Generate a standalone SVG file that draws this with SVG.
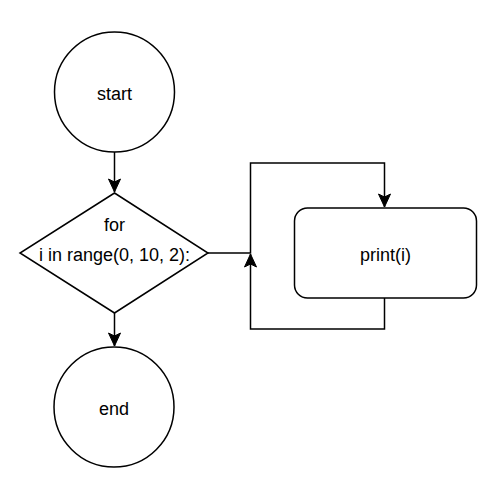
<svg xmlns="http://www.w3.org/2000/svg" width="498" height="488" viewBox="0 0 498 488">
<style>
.shape{fill:#fff;stroke:#000;stroke-width:1.5}
.edge{fill:none;stroke:#000;stroke-width:1.5}
.lbl{font-family:"Liberation Sans",Arial,sans-serif;font-size:18px;fill:#000;text-anchor:middle}
</style>
<defs>
<marker id="arr" markerUnits="userSpaceOnUse" viewBox="-14 -7 14 14" refX="0" refY="0" markerWidth="14" markerHeight="14" orient="auto">
<path d="M0,0 L-13,-6 L-10,0 L-13,6 Z" fill="#000" stroke="#000" stroke-width="1"/>
</marker>
</defs>
<rect width="498" height="488" fill="#fff"/>
<g id="edges">
<path class="edge" d="M114.5,152 L114.5,192" marker-end="url(#arr)"/>
<path class="edge" d="M114.5,313 L114.5,346" marker-end="url(#arr)"/>
<path class="edge" d="M208,253 L250.5,253 L250.5,163 L384.5,163 L384.5,207" marker-end="url(#arr)"/>
<path class="edge" d="M384.5,298 L384.5,329 L250.5,329 L250.5,254" marker-end="url(#arr)"/>
</g>
<g id="start">
<circle class="shape" cx="114.5" cy="92" r="60"/>
<text class="lbl" x="114.5" y="99.5">start</text>
</g>
<g id="loop">
<polygon class="shape" points="114.5,193 208,253 114.5,313 20,253"/>
<text class="lbl" x="114.5" y="231">for</text>
<text class="lbl" x="114.5" y="261">i in range(0, 10, 2):</text>
</g>
<g id="body">
<rect class="shape" x="294.5" y="208" width="182" height="90" rx="13" ry="13"/>
<text class="lbl" x="385.5" y="261">print(i)</text>
</g>
<g id="end">
<circle class="shape" cx="114" cy="407" r="60"/>
<text class="lbl" x="114" y="414.5">end</text>
</g>
</svg>
